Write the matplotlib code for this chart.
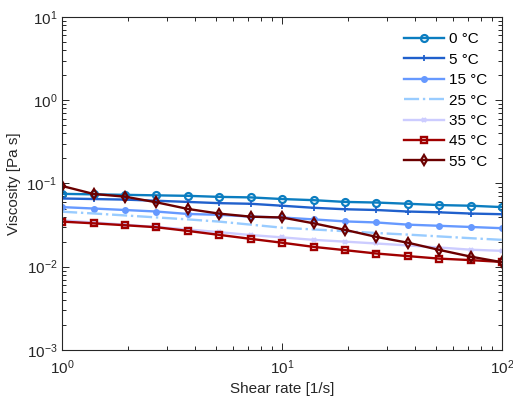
import matplotlib
matplotlib.use("Agg")
import matplotlib.pyplot as plt
from matplotlib.ticker import LogLocator, NullFormatter

plt.rcParams['font.family'] = ['Liberation Sans', 'DejaVu Sans']
plt.rcParams['mathtext.fontset'] = 'custom'
plt.rcParams['mathtext.rm'] = 'Liberation Sans'

# shear rate points (log spaced, 15 per run)
shear_rate = [1.0, 1.39, 1.93, 2.68, 3.73, 5.18, 7.2, 10.0,
              13.9, 19.3, 26.8, 37.3, 51.8, 72.0, 100.0]

# viscosity [Pa s] per temperature
visc_0 = [0.075, 0.074, 0.073, 0.072, 0.071, 0.069, 0.068, 0.065,
          0.063, 0.060, 0.059, 0.057, 0.055, 0.054, 0.052]
visc_5 = [0.066, 0.065, 0.064, 0.062, 0.060, 0.058, 0.057, 0.054,
          0.051, 0.049, 0.048, 0.046, 0.045, 0.0435, 0.0427]
visc_15 = [0.052, 0.050, 0.048, 0.046, 0.043, 0.042, 0.040, 0.039,
           0.037, 0.035, 0.034, 0.032, 0.031, 0.030, 0.029]
visc_25 = [0.0458, 0.0436, 0.0413, 0.0391, 0.0370, 0.0348, 0.0320, 0.0294,
           0.0280, 0.0267, 0.0254, 0.0243, 0.0231, 0.0220, 0.0210]
visc_35 = [0.036, 0.034, 0.032, 0.030, 0.028, 0.026, 0.024, 0.0225,
           0.021, 0.020, 0.019, 0.018, 0.017, 0.016, 0.0155]
visc_45 = [0.0348, 0.0332, 0.0315, 0.0298, 0.0269, 0.0241, 0.0216, 0.0194,
           0.0173, 0.0158, 0.0144, 0.0134, 0.0125, 0.0120, 0.0114]
visc_55 = [0.0933, 0.0748, 0.0694, 0.0594, 0.0494, 0.0434, 0.0399, 0.039,
           0.0332, 0.0277, 0.0228, 0.0194, 0.0159, 0.0132, 0.0113]

labels = ['0 °C', '5 °C', '15 °C', '25 °C', '35 °C', '45 °C', '55 °C']

fig = plt.figure(figsize=(5.13, 4.05), dpi=100)
ax = fig.add_axes([0.121, 0.136, 0.858, 0.822])

lw = 1.7
ax.plot(shear_rate, visc_0, '-o', color='#0b7dc0', lw=lw, ms=5, mfc='none', mew=1.6, label=labels[0])
ax.plot(shear_rate, visc_5, '-+', color='#2060cc', lw=lw, ms=5, mew=1.3, label=labels[1])
ax.plot(shear_rate, visc_15, '-o', color='#6699ff', lw=lw, ms=4, label=labels[2])
ax.plot(shear_rate, visc_25, '-.', color='#99ccff', lw=lw, label=labels[3])
ax.plot(shear_rate, visc_35, '-x', color='#ccccff', lw=lw, ms=3.5, mew=1.6, label=labels[4])
ax.plot(shear_rate, visc_45, '-s', color='#a00000', lw=lw, ms=4, mfc='none', mew=1.7, label=labels[5])
ax.plot(shear_rate, visc_55, '-d', color='#6b0000', lw=lw, ms=5, mfc='none', mew=1.6, label=labels[6])

ax.set_xscale('log')
ax.set_yscale('log')
ax.set_xlim(1, 100)
ax.set_ylim(1e-3, 10)

ax.xaxis.set_major_locator(LogLocator(base=10, numticks=10))
ax.yaxis.set_major_locator(LogLocator(base=10, numticks=10))
ax.xaxis.set_minor_locator(LogLocator(base=10, subs=range(2, 10), numticks=10))
ax.yaxis.set_minor_locator(LogLocator(base=10, subs=range(2, 10), numticks=10))
ax.xaxis.set_minor_formatter(NullFormatter())
ax.yaxis.set_minor_formatter(NullFormatter())

dark = '#262626'
for s in ax.spines.values():
    s.set_color(dark)
    s.set_linewidth(0.8)
ax.tick_params(which='both', direction='in', top=True, right=True, colors=dark, labelsize=11, width=0.7)
ax.tick_params(which='major', length=5)
ax.tick_params(which='minor', length=3)
ax.tick_params(axis='x', pad=6)

ax.set_xlabel('Shear rate [1/s]', fontsize=11, color=dark, labelpad=4)
ax.set_ylabel('Viscosity [Pa s]', fontsize=11, color=dark, labelpad=4)

ax.legend(loc='upper right', frameon=False, fontsize=11, handlelength=2.6,
          handletextpad=0.3, labelspacing=0.42, borderaxespad=0.6)

fig.savefig('out.png', dpi=100)
